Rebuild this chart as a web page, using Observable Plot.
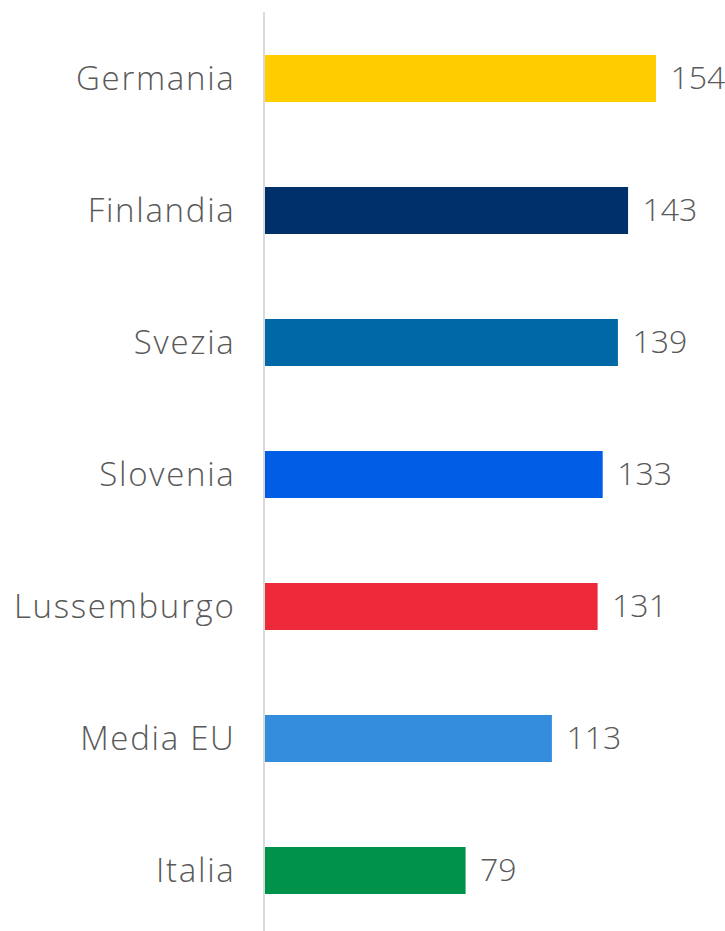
<!DOCTYPE html>
<html>
<head>
<meta charset="utf-8">
<script src="https://cdn.jsdelivr.net/npm/d3@7"></script>
<script src="https://cdn.jsdelivr.net/npm/@observablehq/plot@0.6"></script>
<style>
  html, body { margin: 0; padding: 0; background: #fff; overflow: hidden; }
  #chart svg { display: block; }
  #chart g[aria-label="y-axis tick label"] text { letter-spacing: 1.7px; }
</style>
</head>
<body>
<div id="chart"></div>
<script>
const countries = ["Germania", "Finlandia", "Svezia", "Slovenia", "Lussemburgo", "Media EU", "Italia"];
const values = [154, 143, 139, 133, 131, 113, 79];
const colors = ["#FFCD00", "#003069", "#0068A6", "#005DE6", "#EE2939", "#348DDC", "#00924A"];

const data = countries.map((c, i) => ({country: c, value: values[i], color: colors[i]}));

const fontFamily = "'Open Sans', sans-serif";
const textColor = "#595959";

const chart = Plot.plot({
  width: 725,
  height: 931,
  marginTop: 12,
  marginBottom: 0,
  marginLeft: 265,
  marginRight: 69,
  style: {fontFamily, background: "#fff"},
  x: {domain: [0, 154], axis: null},
  y: {
    domain: countries,
    range: [15.4, 934.3],
    paddingInner: 0.644,
    paddingOuter: 0.3,
    label: null
  },
  marks: [
    Plot.barX(data, {y: "country", x: "value", fill: "color"}),
    Plot.ruleX([0], {stroke: "#d9d9d9", strokeWidth: 2, dx: -1.5}),
    Plot.axisY({
      tickSize: 0,
      tickPadding: 30,
      fontSize: 33,
      fontWeight: 300,
      fill: textColor,
      label: null
    }),
    Plot.text(data, {
      y: "country",
      x: "value",
      text: d => String(d.value),
      textAnchor: "start",
      dx: 14,
      fontSize: 32,
      fontWeight: 300,
      fill: textColor
    })
  ]
});

document.getElementById("chart").appendChild(chart);
</script>
</body>
</html>
